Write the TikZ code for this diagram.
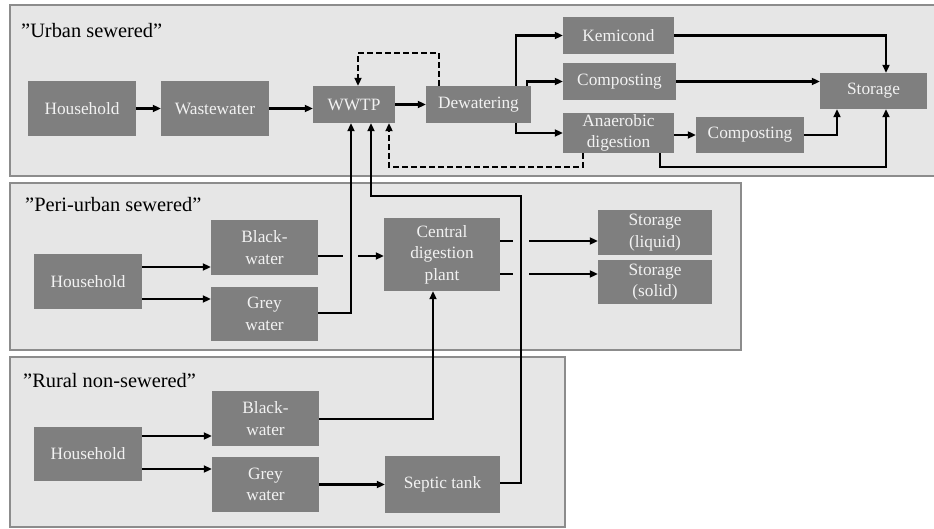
\documentclass[tikz,border=0pt]{standalone}
\usepackage{fontspec}
\setmainfont{Liberation Serif}
\usetikzlibrary{arrows.meta}
\definecolor{boxgray}{HTML}{7F7F7F}
\definecolor{boxtext}{HTML}{F2F2F2}
\definecolor{framefill}{HTML}{E6E6E6}
\definecolor{frameline}{HTML}{8C8C8C}
\begin{document}
\begin{tikzpicture}[x=1pt,y=-1pt,
  frame/.style={draw=frameline,line width=2.4pt,fill=framefill},
  box/.style={fill=boxgray,text=boxtext,inner sep=0pt,align=center,
    font=\rmfamily\fontsize{17.3}{21.5}\selectfont},
  lbl/.style={inner sep=0pt,anchor=base west,font=\rmfamily\fontsize{20.4}{24}\selectfont},
  ln/.style={line width=2.2pt,black},
  arr/.style={ln,-{Triangle[length=8pt,width=7pt]}},
  dsh/.style={arr,dash pattern=on 5.5pt off 3.5pt}]
\useasboundingbox (0,0) rectangle (934,529);
\fill[white] (0,0) rectangle (934,529);

% scenario frames
\draw[frame] (10,5) rectangle (945,176);
\draw[frame] (10,183) rectangle (741,350);
\draw[frame] (10,357) rectangle (565,527);

\node[lbl] (lab1) at (21,38) {”Urban sewered”};
\node[lbl] (lab2) at (25,212) {”Peri-urban sewered”};
\node[lbl] (lab3) at (23,387) {”Rural non-sewered”};

% urban sewered
\node[box,minimum width=108pt,minimum height=55pt] (hh1) at (82,108.5) {Household};
\node[box,minimum width=108pt,minimum height=55pt] (ww) at (215,108.5) {Wastewater};
\node[box,minimum width=82pt,minimum height=37pt] (wwtp) at (354,104.5) {WWTP};
\node[box,minimum width=105pt,minimum height=37pt] (dew) at (478.5,104.5) {Dewatering};
\node[box,minimum width=111pt,minimum height=37pt] (kem) at (618.5,35.5) {Kemicond};
\node[box,minimum width=113pt,minimum height=37pt] (comp1) at (619.5,81.5) {Composting};
\node[box,minimum width=111pt,minimum height=40pt] (anae) at (618.5,133) {Anaerobic\\digestion};
\node[box,minimum width=108pt,minimum height=36pt] (comp2) at (750,135) {Composting};
\node[box,minimum width=107pt,minimum height=36pt] (stor) at (873.5,91) {Storage};

% peri-urban sewered
\node[box,minimum width=108pt,minimum height=55pt] (hh2) at (88,281.5) {Household};
\node[box,minimum width=107pt,minimum height=55pt] (bw2) at (264.5,247.5) {Black-\\water};
\node[box,minimum width=107pt,minimum height=54pt] (gw2) at (264.5,314) {Grey\\water};
\node[box,minimum width=116pt,minimum height=73pt] (cdp) at (442,254.5) {Central\\digestion\\plant};
\node[box,minimum width=114pt,minimum height=45pt] (sliq) at (655,232.5) {Storage\\(liquid)};
\node[box,minimum width=114pt,minimum height=44pt] (ssol) at (655,282) {Storage\\(solid)};

% rural non-sewered
\node[box,minimum width=108pt,minimum height=54pt] (hh3) at (88,454) {Household};
\node[box,minimum width=107pt,minimum height=55pt] (bw3) at (265.5,418.5) {Black-\\water};
\node[box,minimum width=107pt,minimum height=55pt] (gw3) at (265.5,484.5) {Grey\\water};
\node[box,minimum width=115pt,minimum height=57pt] (sep) at (442.5,484.5) {Septic tank};

% bend and gap points
\coordinate (kx) at (516,0);
\coordinate (cx) at (527,0);
\coordinate (dtop) at (439,53);
\coordinate (dtop2) at (358,53);
\coordinate (dbot) at (583,167);
\coordinate (dbot2) at (389,167);
\coordinate (sx) at (886,0);
\coordinate (s2x) at (837,0);
\coordinate (ax) at (660,167);
\coordinate (hb) at (0,267);
\coordinate (hg) at (0,299);
\coordinate (g1a) at (343,256);
\coordinate (g1b) at (358,256);
\coordinate (v1) at (351,313);
\coordinate (l1a) at (513,241);
\coordinate (l1b) at (529,241);
\coordinate (l2a) at (513,274);
\coordinate (l2b) at (529,274);
\coordinate (rb) at (0,436);
\coordinate (rg) at (0,469);
\coordinate (v2) at (433,419);
\coordinate (v3a) at (521,483);
\coordinate (v3b) at (521,196);
\coordinate (v3c) at (371,196);

% urban flows
\draw[arr] (hh1.east) -- (ww.west);
\draw[arr] (ww.east) -- (ww.east -| wwtp.west);
\draw[arr] (wwtp.east) -- (dew.west);
\draw[dsh] (dtop |- dew.north) -- (dtop) -- (dtop2) -- (dtop2 |- wwtp.north);
\draw[dsh] (dbot |- anae.south) -- (dbot) -- (dbot2) -- (dbot2 |- wwtp.south);
\draw[arr] (kx |- dew.north) |- (kem.west);
\draw[arr] (cx |- dew.north) |- (comp1.west);
\draw[arr] (kx |- dew.south) |- (anae.west);
\draw[arr] (kem.east) -| (sx |- stor.north);
\draw[arr] (comp1.east) -- (comp1.east -| stor.west);
\draw[arr] (anae.east |- comp2.west) -- (comp2.west);
\draw[arr] (comp2.east) -| (s2x |- stor.south);
\draw[arr] (ax |- anae.south) -- (ax) -| (sx |- stor.south);

% peri-urban flows
\draw[arr] (hb -| hh2.east) -- (hb -| bw2.west);
\draw[arr] (hg -| hh2.east) -- (hg -| gw2.west);
\draw[ln] (bw2.east |- g1a) -- (g1a);
\draw[arr] (g1b) -- (g1b -| cdp.west);
\draw[arr] (gw2.east |- v1) -- (v1) -- (v1 |- wwtp.south);
\draw[ln] (cdp.east |- l1a) -- (l1a);
\draw[arr] (l1b) -- (l1b -| sliq.west);
\draw[ln] (cdp.east |- l2a) -- (l2a);
\draw[arr] (l2b) -- (l2b -| ssol.west);

% rural flows
\draw[arr] (rb -| hh3.east) -- (rb -| bw3.west);
\draw[arr] (rg -| hh3.east) -- (rg -| gw3.west);
\draw[arr] (gw3.east) -- (sep.west);
\draw[arr] (bw3.east |- v2) -- (v2) -- (v2 |- cdp.south);
\draw[arr] (sep.east |- v3a) -- (v3a) -- (v3b) -- (v3c) -- (v3c |- wwtp.south);
\end{tikzpicture}
\end{document}
